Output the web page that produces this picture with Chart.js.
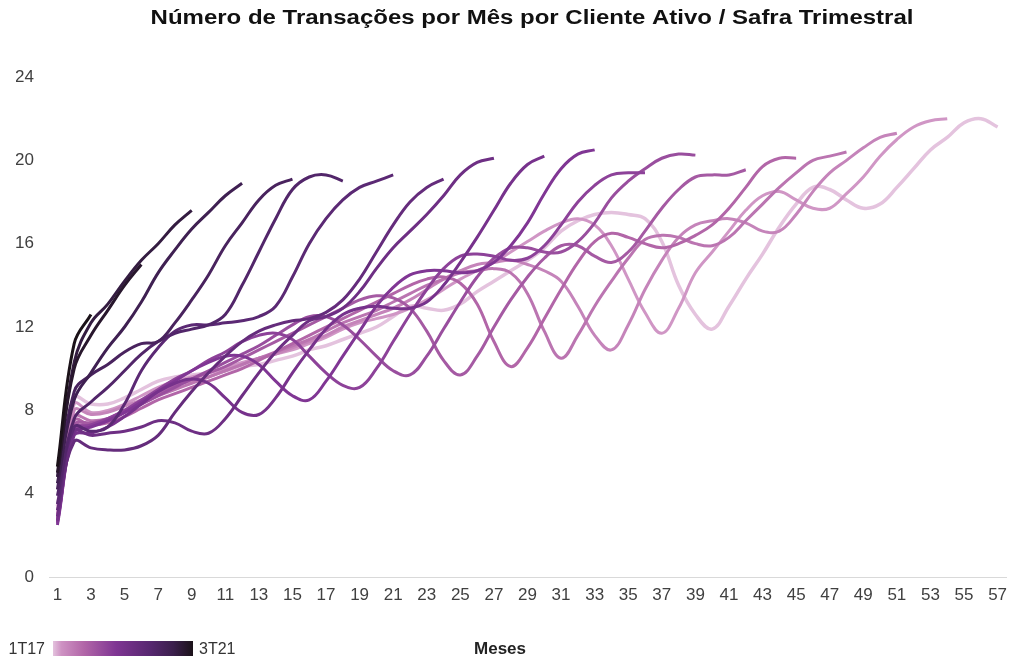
<!DOCTYPE html>
<html lang="pt-BR">
<head>
<meta charset="utf-8">
<title>Transações por Mês por Cliente Ativo</title>
<script src="https://cdn.jsdelivr.net/npm/chart.js@4.4.1/dist/chart.umd.min.js"></script>
<style>
  html, body { margin: 0; padding: 0; background: #fff; }
  #wrap { width: 1011px; height: 660px; }
</style>
</head>
<body>
<div id="wrap"><canvas id="safras" width="1011" height="660"></canvas></div>
<script>
// Meses desde a entrada do cliente (eixo X)
const meses = ['1','2','3','4','5','6','7','8','9','10','11','12','13','14','15','16','17','18','19','20',
  '21','22','23','24','25','26','27','28','29','30','31','32','33','34','35','36','37','38','39','40',
  '41','42','43','44','45','46','47','48','49','50','51','52','53','54','55','56','57'];

// Safras trimestrais, da mais antiga para a mais recente
const safras = ['1T17','2T17','3T17','4T17','1T18','2T18','3T18','4T18','1T19','2T19',
  '3T19','4T19','1T20','2T20','3T20','4T20','1T21','2T21','3T21'];

// Eixo Y
const yTicks = [0, 4, 8, 12, 16, 20, 24];

// Transações por mês por cliente ativo, por safra
const s1T17 = [3.4, 8.6, 8.3, 8.3, 8.6, 9.0, 9.4, 9.6, 9.7, 9.8,
  9.9, 10.1, 10.2, 10.4, 10.6, 10.9, 11.1, 11.4, 11.7, 12.0,
  12.5, 13.0, 12.9, 12.8, 13.1, 13.7, 14.2, 14.7, 15.2, 15.8,
  16.6, 17.1, 17.4, 17.5, 17.4, 17.2, 16.1, 14.0, 12.6, 11.9,
  13.0, 14.3, 15.5, 16.8, 17.9, 18.7, 18.6, 18.1, 17.7, 17.9,
  18.7, 19.6, 20.5, 21.1, 21.8, 22.0, 21.6];
const s2T17 = [3.2, 8.3, 7.9, 8.0, 8.3, 8.7, 9.1, 9.4, 9.6, 9.8,
  10.0, 10.3, 10.5, 10.7, 10.9, 11.2, 11.5, 11.9, 12.2, 12.4,
  12.6, 12.9, 13.3, 13.8, 14.3, 14.7, 15.1, 15.6, 16.1, 16.6,
  17.0, 17.2, 16.9, 15.9, 14.3, 12.7, 11.7, 12.9, 14.6, 15.6,
  16.6, 17.6, 18.3, 18.5, 18.1, 17.7, 17.7, 18.4, 19.2, 20.2,
  21.0, 21.6, 21.9, 22.0];
const s3T17 = [3.0, 8.0, 7.8, 7.9, 8.2, 8.5, 8.9, 9.2, 9.4, 9.6,
  9.9, 10.2, 10.5, 10.7, 11.0, 11.3, 11.6, 12.0, 12.3, 12.6,
  12.9, 13.3, 13.8, 14.3, 14.7, 15.0, 15.1, 15.2, 15.0, 14.7,
  14.2, 13.0, 11.6, 10.9, 12.1, 13.8, 15.2, 16.3, 16.9, 17.1,
  17.2, 17.0, 16.6, 16.6, 17.4, 18.5, 19.4, 20.0, 20.6, 21.1,
  21.3];
const s4T17 = [2.9, 7.7, 7.5, 7.6, 7.9, 8.3, 8.7, 9.0, 9.3, 9.6,
  9.9, 10.2, 10.5, 10.8, 11.1, 11.4, 11.8, 12.2, 12.5, 12.8,
  13.2, 13.6, 14.0, 14.3, 14.6, 14.7, 14.8, 14.6, 13.6, 11.8,
  10.5, 11.6, 13.0, 14.2, 15.3, 16.2, 16.4, 16.3, 16.0, 15.9,
  16.3, 17.1, 17.9, 18.7, 19.4, 20.0, 20.2, 20.4];
const s1T18 = [2.8, 7.5, 7.3, 7.4, 7.7, 8.1, 8.5, 8.8, 9.1, 9.4,
  9.7, 10.0, 10.4, 10.8, 11.2, 11.6, 12.0, 12.4, 12.8, 13.2,
  13.6, 14.0, 14.3, 14.4, 14.1, 13.1, 11.3, 10.1, 11.0, 12.4,
  13.8, 15.1, 16.1, 16.5, 16.3, 16.0, 15.8, 16.0, 16.4, 16.9,
  17.7, 18.7, 19.7, 20.1, 20.1];
const s2T18 = [2.7, 7.3, 7.4, 7.6, 8.0, 8.4, 8.8, 9.2, 9.5, 9.8,
  10.1, 10.5, 10.9, 11.3, 11.7, 12.1, 12.5, 12.9, 13.3, 13.5,
  13.4, 12.9, 11.8, 10.4, 9.7, 10.6, 12.0, 13.3, 14.4, 15.3,
  15.9, 15.9, 15.4, 15.1, 15.6, 16.6, 17.7, 18.6, 19.2, 19.3,
  19.3, 19.55];
const s3T18 = [2.6, 7.1, 7.3, 7.5, 7.9, 8.3, 8.7, 9.1, 9.5, 9.9,
  10.3, 10.7, 11.1, 11.6, 12.1, 12.5, 12.5, 12.1, 11.4, 10.6,
  9.9, 9.7, 10.6, 11.9, 13.2, 14.4, 15.3, 15.8, 15.8, 15.6,
  15.6, 16.1, 17.0, 18.2, 19.0, 19.6, 20.1, 20.3, 20.25];
const s4T18 = [2.6, 7.0, 7.3, 7.6, 8.0, 8.5, 9.0, 9.5, 9.9, 10.4,
  10.8, 11.3, 11.6, 11.7, 11.4, 10.6, 9.8, 9.2, 9.1, 10.0,
  11.3, 12.6, 13.8, 14.8, 15.4, 15.5, 15.4, 15.2, 15.3, 15.9,
  16.9, 18.0, 18.8, 19.3, 19.4, 19.4];
const s1T19 = [2.5, 6.9, 7.2, 7.5, 7.9, 8.4, 8.9, 9.4, 9.9, 10.3,
  10.6, 10.6, 10.2, 9.4, 8.7, 8.5, 9.4, 10.6, 11.8, 13.0,
  13.9, 14.5, 14.7, 14.7, 14.6, 14.7, 15.1, 15.9, 17.0, 18.4,
  19.6, 20.3, 20.5];
const s2T19 = [2.7, 6.8, 6.9, 7.2, 7.7, 8.3, 8.9, 9.3, 9.5, 9.3,
  8.6, 7.9, 7.8, 8.6, 9.8, 10.9, 11.9, 12.6, 12.9, 13.0,
  12.9, 12.9, 13.2, 14.0, 15.1, 16.3, 17.6, 18.9, 19.8, 20.2];
const s3T19 = [2.9, 7.0, 6.8, 6.9, 7.0, 7.2, 7.5, 7.4, 7.0, 6.9,
  7.6, 8.7, 9.8, 10.8, 11.6, 12.3, 12.5, 12.9, 13.7, 14.8,
  15.8, 16.6, 17.4, 18.3, 19.3, 19.9, 20.1];
const s4T19 = [3.2, 6.5, 6.2, 6.1, 6.1, 6.3, 6.8, 7.9, 8.9, 9.8,
  10.6, 11.3, 11.8, 12.1, 12.3, 12.4, 12.7, 13.3, 14.3, 15.6,
  16.9, 18.0, 18.7, 19.1];
const s1T20 = [3.5, 7.2, 7.0, 7.2, 8.3, 9.9, 11.0, 11.8, 12.1, 12.1,
  12.2, 12.3, 12.5, 13.0, 14.4, 16.0, 17.2, 18.1, 18.7, 19.0,
  19.3];
const s2T20 = [3.9, 7.6, 8.4, 9.1, 9.9, 10.7, 11.3, 11.7, 11.9, 12.1,
  12.6, 14.0, 15.6, 17.2, 18.6, 19.2, 19.3, 19.0];
const s3T20 = [4.2, 8.9, 9.7, 10.2, 10.8, 11.2, 11.3, 12.2, 13.3, 14.5,
  15.9, 17.0, 18.1, 18.8, 19.1];
const s4T20 = [4.5, 8.5, 9.8, 11.0, 12.0, 13.2, 14.6, 15.7, 16.7, 17.5,
  18.3, 18.9];
const s1T21 = [4.8, 10.3, 12.2, 13.1, 14.2, 15.2, 16.0, 16.9, 17.6];
const s2T21 = [5.0, 10.0, 11.6, 12.8, 14.0, 15.0];
const s3T21 = [5.3, 11.2, 12.6];

const valoresSafra = [s1T17, s2T17, s3T17, s4T17, s1T18, s2T18, s3T18, s4T18, s1T19, s2T19,
  s3T19, s4T19, s1T20, s2T20, s3T20, s4T20, s1T21, s2T21, s3T21];

const titulo = 'Número de Transações por Mês por Cliente Ativo / Safra Trimestral';

// Escala de cor: rosa claro (safra antiga) -> roxo -> quase preto (safra recente)
const paradas = [
  [0.00, [228, 195, 222]],
  [0.06, [206, 146, 195]],
  [0.22, [178, 102, 168]],
  [0.45, [127, 53, 147]],
  [0.70, [86, 39, 111]],
  [0.86, [59, 31, 76]],
  [1.00, [27, 18, 25]]
];

function corEscala(t) {
  for (let i = 1; i < paradas.length; i++) {
    const [p1, c1] = paradas[i];
    const [p0, c0] = paradas[i - 1];
    if (t <= p1) {
      const k = (t - p0) / (p1 - p0);
      const c = c0.map((v, j) => Math.round(v + (c1[j] - v) * k));
      return `rgb(${c[0]},${c[1]},${c[2]})`;
    }
  }
  const c = paradas[paradas.length - 1][1];
  return `rgb(${c[0]},${c[1]},${c[2]})`;
}

const datasets = safras.map((nome, i) => ({
  label: nome,
  data: valoresSafra[i],
  borderColor: corEscala(i / (safras.length - 1)),
  borderWidth: i === 0 ? 3.5 : 3,
  pointRadius: 0,
  fill: false,
  tension: 0.4,
  order: safras.length - 1 - i   // safras recentes desenhadas por cima
}));

const fonteTexto = '"Liberation Sans", Arial, Helvetica, sans-serif';

// Título, barra de gradiente da legenda e rótulo "Meses"
const moldura = {
  id: 'moldura',
  afterDraw(chart) {
    const ctx = chart.ctx;
    ctx.save();

    ctx.save();
    ctx.translate(532, 24);
    ctx.scale(1.2, 1);
    ctx.font = `bold 20px ${fonteTexto}`;
    ctx.fillStyle = '#111111';
    ctx.textAlign = 'center';
    ctx.textBaseline = 'alphabetic';
    ctx.fillText(titulo, 0, 0);
    ctx.restore();

    const x0 = 53, x1 = 193, y0 = 641, h = 15;
    const grad = ctx.createLinearGradient(x0, 0, x1, 0);
    paradas.forEach(([p, c]) => grad.addColorStop(p, `rgb(${c[0]},${c[1]},${c[2]})`));
    ctx.fillStyle = grad;
    ctx.fillRect(x0, y0, x1 - x0, h);

    ctx.font = `16px ${fonteTexto}`;
    ctx.fillStyle = '#333333';
    ctx.textBaseline = 'alphabetic';
    ctx.textAlign = 'right';
    ctx.fillText(safras[0], 45, 654);
    ctx.textAlign = 'left';
    ctx.fillText(safras[safras.length - 1], 199, 654);

    ctx.font = `bold 17px ${fonteTexto}`;
    ctx.fillStyle = '#222222';
    ctx.textAlign = 'center';
    ctx.fillText('Meses', 500, 654);

    ctx.restore();
  }
};

new Chart(document.getElementById('safras'), {
  type: 'line',
  data: { labels: meses, datasets },
  options: {
    responsive: false,
    animation: false,
    devicePixelRatio: 1,
    layout: { padding: { top: 77, left: 16, right: 5, bottom: 57 } },
    plugins: {
      legend: { display: false },
      title: { display: false },
      tooltip: { enabled: false }
    },
    scales: {
      x: {
        type: 'category',
        offset: true,
        grid: { display: false, drawTicks: false },
        border: { display: true, color: '#d9d9d9', width: 1 },
        afterFit: (axis) => {
          axis.height = 26;
          axis.paddingLeft = 0;
          axis.paddingRight = 0;
        },
        ticks: {
          autoSkip: false,
          maxRotation: 0,
          minRotation: 0,
          padding: 8,
          color: '#404040',
          font: { family: fonteTexto, size: 17 },
          callback: function (v, i) { return i % 2 === 0 ? this.getLabelForValue(v) : ''; }
        }
      },
      y: {
        min: yTicks[0],
        max: yTicks[yTicks.length - 1],
        grid: { display: false, drawTicks: false },
        border: { display: false },
        afterFit: (axis) => { axis.width = 33; },
        afterBuildTicks: (axis) => { axis.ticks = yTicks.map(v => ({ value: v })); },
        ticks: {
          padding: 15,
          color: '#404040',
          font: { family: fonteTexto, size: 17 }
        }
      }
    }
  },
  plugins: [moldura]
});
</script>
</body>
</html>
